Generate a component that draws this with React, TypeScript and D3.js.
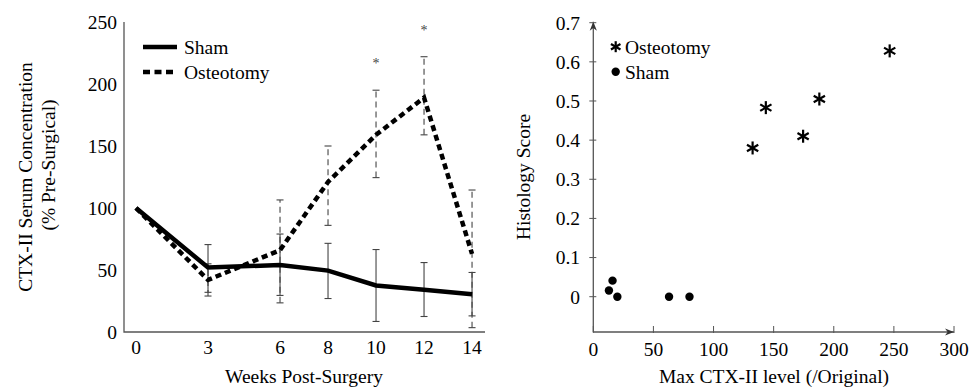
import React, { useRef, useEffect } from 'react';
import * as d3 from 'd3';

// Left panel: CTX-II over time
const weeks = [0, 3, 6, 8, 10, 12, 14];
const shamMean = [100, 52, 54, 49.5, 37.5, 34, 30.5];
const shamLow = [100, 32, 29.5, 27, 8.5, 12.5, 13];
const shamHigh = [100, 70.5, 79, 71.5, 66.5, 56, 48];
const osteoMean = [100, 42, 66, 121, 159, 189, 63];
const osteoLow = [100, 29, 23.5, 86, 124.5, 159, 3.5];
const osteoHigh = [100, 55, 106.5, 150, 195, 222, 114.5];
const signifWeeks = [10, 12];
const leftYTicks = [0, 50, 100, 150, 200, 250];

// Right panel: histology vs max CTX-II
const osteoMaxCtx = [132.5, 143.5, 174.5, 188, 246.5];
const osteoHisto = [0.38, 0.483, 0.41, 0.505, 0.628];
const shamMaxCtx = [13, 16, 20, 63, 80];
const shamHisto = [0.016, 0.041, 0, 0, 0];
const rightXTicks = [0, 50, 100, 150, 200, 250, 300];
const rightYTicks = [0, 0.1, 0.2, 0.3, 0.4, 0.5, 0.6, 0.7];

const W = 969;
const H = 387;
const FONT = '"Liberation Serif", "Times New Roman", serif';
const FS = 19.5;

const App = () => {
  const svgRef = useRef<SVGSVGElement>(null);

  useEffect(() => {
    const svg = d3.select(svgRef.current);
    svg.selectAll('*').remove();
    svg.attr('width', W).attr('height', H).style('font-family', FONT);

    const defs = svg.append('defs');
    defs.append('marker')
      .attr('id', 'arrow')
      .attr('viewBox', '0 0 10 10')
      .attr('refX', 10).attr('refY', 5)
      .attr('markerWidth', 9).attr('markerHeight', 9)
      .attr('markerUnits', 'userSpaceOnUse')
      .attr('orient', 'auto')
      .append('path')
      .attr('d', 'M0,1 L10,5 L0,9 L3,5 Z')
      .attr('fill', '#333');

    // ---------- left chart ----------
    const x = d3.scaleLinear().domain([-0.5, 14.54]).range([124, 485]);
    const y = d3.scaleLinear().domain([0, 250]).range([332, 22]);
    const left = svg.append('g');

    left.append('path')
      .attr('d', `M${x(-0.5)},${y(250)} V${y(0)} H${x(14.54)}`)
      .attr('fill', 'none').attr('stroke', '#555').attr('stroke-width', 1.3);

    left.selectAll('.ytick').data(leftYTicks).enter().append('text')
      .attr('x', 117).attr('y', d => y(d)).attr('dy', '0.35em')
      .attr('text-anchor', 'end').style('font-size', FS + 'px').text(d => d);

    left.selectAll('.xtick').data(weeks).enter().append('text')
      .attr('x', d => x(d)).attr('y', 354)
      .attr('text-anchor', 'middle').style('font-size', FS + 'px').text(d => d);

    // error bars
    const errBars = (low: number[], high: number[], dashed: boolean) => {
      weeks.forEach((w, i) => {
        if (i === 0) return;
        const g = left.append('g').attr('stroke', '#444').attr('stroke-width', 1.1);
        g.append('line')
          .attr('x1', x(w)).attr('x2', x(w)).attr('y1', y(low[i])).attr('y2', y(high[i]))
          .attr('stroke-dasharray', dashed ? '6,4' : null);
        [low[i], high[i]].forEach(v => {
          g.append('line').attr('x1', x(w) - 3.5).attr('x2', x(w) + 3.5)
            .attr('y1', y(v)).attr('y2', y(v));
        });
      });
    };
    errBars(shamLow, shamHigh, false);
    errBars(osteoLow, osteoHigh, true);

    const line = d3.line<number>().x((d, i) => x(weeks[i])).y(d => y(d));
    left.append('path').datum(osteoMean).attr('d', line)
      .attr('fill', 'none').attr('stroke', '#000').attr('stroke-width', 4.5)
      .attr('stroke-dasharray', '6,4');
    left.append('path').datum(shamMean).attr('d', line)
      .attr('fill', 'none').attr('stroke', '#000').attr('stroke-width', 4.5);

    left.selectAll('.sig').data(signifWeeks).enter().append('text')
      .attr('x', d => x(d)).attr('y', d => y(osteoHigh[weeks.indexOf(d)]) - 22)
      .attr('text-anchor', 'middle').style('font-size', '14px').attr('fill', '#444')
      .text('*');

    // legend
    const lg = left.append('g');
    lg.append('line').attr('x1', 143).attr('x2', 177).attr('y1', 47).attr('y2', 47)
      .attr('stroke', '#000').attr('stroke-width', 4.5);
    lg.append('text').attr('x', 184).attr('y', 47).attr('dy', '0.35em')
      .style('font-size', FS + 'px').text('Sham');
    lg.append('line').attr('x1', 143).attr('x2', 177).attr('y1', 72).attr('y2', 72)
      .attr('stroke', '#000').attr('stroke-width', 4.5).attr('stroke-dasharray', '7,4.5');
    lg.append('text').attr('x', 184).attr('y', 72).attr('dy', '0.35em')
      .style('font-size', FS + 'px').text('Osteotomy');

    left.append('text').attr('x', 304).attr('y', 383).attr('text-anchor', 'middle')
      .style('font-size', FS + 'px').text('Weeks Post-Surgery');
    left.append('text').attr('transform', 'translate(25,177) rotate(-90)').attr('dy', '0.35em')
      .attr('text-anchor', 'middle').style('font-size', FS + 'px').text('CTX-II Serum Concentration');
    left.append('text').attr('transform', 'translate(48,165) rotate(-90)').attr('dy', '0.35em')
      .attr('text-anchor', 'middle').style('font-size', FS + 'px').text('(% Pre-Surgical)');

    // ---------- right chart ----------
    const rx = d3.scaleLinear().domain([0, 300]).range([593.3, 954]);
    const ry = d3.scaleLinear().domain([0, 0.7]).range([296.7, 22.7]);
    const yBottom = 332;
    const right = svg.append('g');

    right.append('line').attr('x1', rx(0)).attr('x2', rx(0)).attr('y1', yBottom).attr('y2', ry(0.7) - 1)
      .attr('stroke', '#555').attr('stroke-width', 1.3).attr('marker-end', 'url(#arrow)');
    right.append('line').attr('x1', rx(0)).attr('x2', rx(300)).attr('y1', yBottom).attr('y2', yBottom)
      .attr('stroke', '#555').attr('stroke-width', 1.3).attr('marker-end', 'url(#arrow)');

    right.selectAll('.ryt').data(rightYTicks).enter().append('line')
      .attr('x1', rx(0) - 4).attr('x2', rx(0) + 3).attr('y1', d => ry(d)).attr('y2', d => ry(d))
      .attr('stroke', '#555').attr('stroke-width', 1);
    right.selectAll('.rytl').data(rightYTicks).enter().append('text')
      .attr('x', 580).attr('y', d => ry(d)).attr('dy', '0.35em').attr('text-anchor', 'end')
      .style('font-size', FS + 'px').text(d => d3.format('~g')(d));

    right.selectAll('.rxt').data(rightXTicks).enter().append('line')
      .attr('x1', d => rx(d)).attr('x2', d => rx(d)).attr('y1', yBottom - 6).attr('y2', yBottom + 1)
      .attr('stroke', '#555').attr('stroke-width', 1);
    right.selectAll('.rxtl').data(rightXTicks).enter().append('text')
      .attr('x', d => rx(d)).attr('y', 356).attr('text-anchor', 'middle')
      .style('font-size', FS + 'px').text(d => d);

    const star = (g: any, cx: number, cy: number, r: number) => {
      [90, 30, 150].forEach(a => {
        const t = (a * Math.PI) / 180;
        g.append('line')
          .attr('x1', cx - r * Math.cos(t)).attr('y1', cy - r * Math.sin(t))
          .attr('x2', cx + r * Math.cos(t)).attr('y2', cy + r * Math.sin(t))
          .attr('stroke', '#000').attr('stroke-width', 2.2);
      });
    };
    osteoMaxCtx.forEach((v, i) => star(right, rx(v), ry(osteoHisto[i]), 6.5));
    right.selectAll('.dot').data(shamMaxCtx).enter().append('circle')
      .attr('cx', d => rx(d)).attr('cy', (d, i) => ry(shamHisto[i])).attr('r', 4.2)
      .attr('fill', '#000');

    star(right, 615.7, 46.7, 5.5);
    right.append('text').attr('x', 625).attr('y', 46.7).attr('dy', '0.35em')
      .style('font-size', FS + 'px').text('Osteotomy');
    right.append('circle').attr('cx', 615.7).attr('cy', 71.7).attr('r', 4.2).attr('fill', '#000');
    right.append('text').attr('x', 625).attr('y', 71.7).attr('dy', '0.35em')
      .style('font-size', FS + 'px').text('Sham');

    right.append('text').attr('x', 774).attr('y', 383).attr('text-anchor', 'middle')
      .style('font-size', FS + 'px').text('Max CTX-II level (/Original)');
    right.append('text').attr('transform', 'translate(523,177) rotate(-90)').attr('dy', '0.35em')
      .attr('text-anchor', 'middle').style('font-size', FS + 'px').text('Histology Score');
  }, []);

  return (
    <div style={{ position: 'absolute', left: 0, top: 0, background: 'white' }}>
      <svg ref={svgRef}></svg>
    </div>
  );
};

export default App;
